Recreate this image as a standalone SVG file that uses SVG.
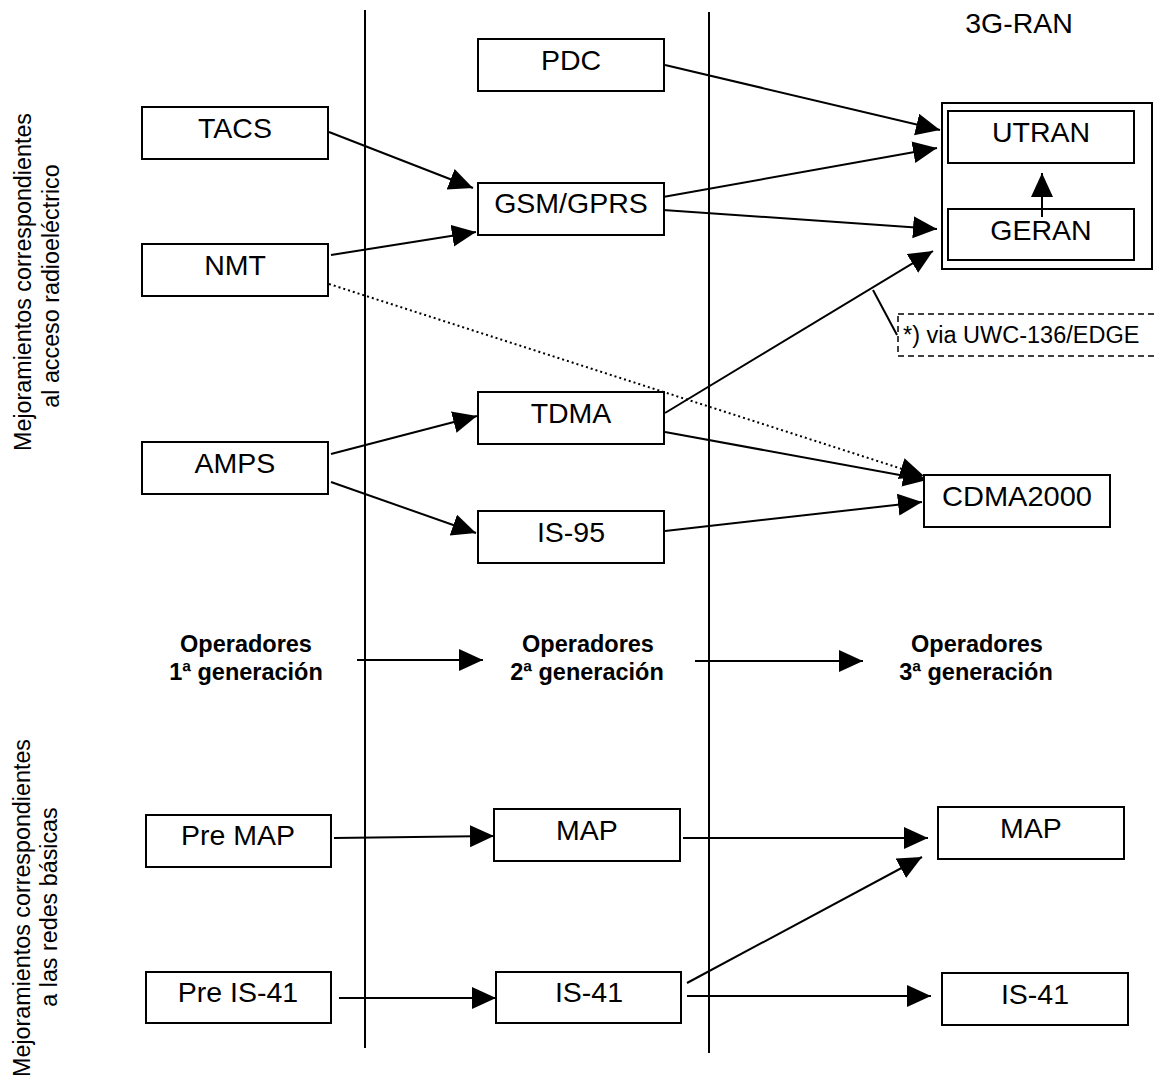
<svg xmlns="http://www.w3.org/2000/svg" width="1155" height="1089" viewBox="0 0 1155 1089">
<style>
.bx{fill:#fff;stroke:#000;stroke-width:2}
.t{font-family:"Liberation Sans",Arial,sans-serif;font-size:28.5px;text-anchor:middle;fill:#000}
.op{font-family:"Liberation Sans",Arial,sans-serif;font-size:23.5px;font-weight:bold;text-anchor:middle;fill:#000}
.side{font-family:"Liberation Sans",Arial,sans-serif;font-size:23.3px;text-anchor:middle;fill:#000}
.c{stroke:#000;stroke-width:2;fill:none}
.a{marker-end:url(#ah)}
</style>
<defs>
<marker id="ah" markerUnits="userSpaceOnUse" markerWidth="26" markerHeight="24" refX="24" refY="11" orient="auto" viewBox="0 0 26 24">
<path d="M0,0 L24,11 L0,22 z" fill="#000"/>
</marker>
</defs>
<rect width="1155" height="1089" fill="#fff"/>
<g id="dividers">
<line class="c" x1="365" y1="10" x2="365" y2="1048"/>
<line class="c" x1="709" y1="12" x2="709" y2="1053"/>
</g>
<g id="side-labels">
<text class="side" transform="translate(31,282) rotate(-90)">Mejoramientos correspondientes</text>
<text class="side" transform="translate(59,286) rotate(-90)">al acceso radioeléctrico</text>
<text class="side" transform="translate(30,908) rotate(-90)">Mejoramientos correspondientes</text>
<text class="side" transform="translate(57,907) rotate(-90)">a las redes básicas</text>
</g>
<g id="connectors">
<line class="c a" x1="665" y1="65" x2="940" y2="130"/>
<line class="c a" x1="329" y1="132" x2="473" y2="188"/>
<line class="c a" x1="663" y1="197" x2="937" y2="148"/>
<line class="c a" x1="663" y1="210" x2="937" y2="229"/>
<line class="c a" x1="331" y1="255" x2="476" y2="232"/>
<line class="c a" x1="665" y1="413" x2="933" y2="251"/>
<line class="c a" x1="1042" y1="217" x2="1042" y2="173"/>
<line class="c a" x1="329" y1="284" x2="924" y2="476" stroke-dasharray="2,3"/>
<line class="c a" x1="665" y1="432" x2="927" y2="480"/>
<line class="c a" x1="331" y1="454" x2="477" y2="416"/>
<line class="c a" x1="331" y1="482" x2="476" y2="533"/>
<line class="c a" x1="665" y1="531" x2="922" y2="502"/>
<line class="c a" x1="357" y1="660" x2="483" y2="660"/>
<line class="c a" x1="695" y1="661" x2="863" y2="661"/>
<line class="c a" x1="334" y1="838" x2="494" y2="836"/>
<line class="c a" x1="683" y1="838" x2="928" y2="838"/>
<line class="c a" x1="687" y1="983" x2="922" y2="857"/>
<line class="c a" x1="339" y1="998" x2="496" y2="998"/>
<line class="c a" x1="687" y1="996" x2="931" y2="996"/>
<line class="c" x1="873" y1="290" x2="897" y2="335" stroke-width="1.5"/>
</g>
<g id="n-3gran-label"><text class="t" x="1019" y="33">3G-RAN</text></g>
<g id="n-3gran"><rect class="bx" x="942" y="103" width="210" height="166" style="fill:none"/></g>
<g id="n-pdc"><rect class="bx" x="478" y="39" width="186" height="52"/><text class="t" x="571" y="70">PDC</text></g>
<g id="n-tacs"><rect class="bx" x="142" y="107" width="186" height="52"/><text class="t" x="235" y="138">TACS</text></g>
<g id="n-gsm"><rect class="bx" x="478" y="183" width="186" height="52"/><text class="t" x="571" y="213">GSM/GPRS</text></g>
<g id="n-nmt"><rect class="bx" x="142" y="244" width="186" height="52"/><text class="t" x="235" y="275">NMT</text></g>
<g id="n-utran"><rect class="bx" x="948" y="111" width="186" height="52" style="fill:none"/><text class="t" x="1041" y="142">UTRAN</text></g>
<g id="n-geran"><rect class="bx" x="948" y="209" width="186" height="51" style="fill:none"/><text class="t" x="1041" y="240">GERAN</text></g>
<g id="n-tdma"><rect class="bx" x="478" y="392" width="186" height="52"/><text class="t" x="571" y="423">TDMA</text></g>
<g id="n-amps"><rect class="bx" x="142" y="442" width="186" height="52"/><text class="t" x="235" y="473">AMPS</text></g>
<g id="n-is95"><rect class="bx" x="478" y="511" width="186" height="52"/><text class="t" x="571" y="542">IS-95</text></g>
<g id="n-cdma"><rect class="bx" x="924" y="475" width="186" height="52"/><text class="t" x="1017" y="506" textLength="150" lengthAdjust="spacingAndGlyphs">CDMA2000</text></g>
<g id="n-callout"><rect x="898" y="314" width="262" height="42" fill="none" stroke="#000" stroke-width="1.5" stroke-dasharray="6,4"/><text x="903" y="343" font-family="Liberation Sans, Arial, sans-serif" font-size="23.5">*) via UWC-136/EDGE</text></g>
<g id="n-op1"><text class="op" x="246" y="652">Operadores</text><text class="op" x="246" y="680">1ª generación</text></g>
<g id="n-op2"><text class="op" x="588" y="652">Operadores</text><text class="op" x="587" y="680">2ª generación</text></g>
<g id="n-op3"><text class="op" x="977" y="652">Operadores</text><text class="op" x="976" y="680">3ª generación</text></g>
<g id="n-premap"><rect class="bx" x="146" y="815" width="185" height="52"/><text class="t" x="238" y="845">Pre MAP</text></g>
<g id="n-map2"><rect class="bx" x="494" y="809" width="186" height="52"/><text class="t" x="587" y="840">MAP</text></g>
<g id="n-map3"><rect class="bx" x="938" y="807" width="186" height="52"/><text class="t" x="1031" y="838">MAP</text></g>
<g id="n-preis41"><rect class="bx" x="146" y="972" width="185" height="51"/><text class="t" x="238" y="1002">Pre IS-41</text></g>
<g id="n-is41-2"><rect class="bx" x="496" y="972" width="185" height="51"/><text class="t" x="589" y="1002">IS-41</text></g>
<g id="n-is41-3"><rect class="bx" x="942" y="973" width="186" height="52"/><text class="t" x="1035" y="1004">IS-41</text></g>
</svg>
